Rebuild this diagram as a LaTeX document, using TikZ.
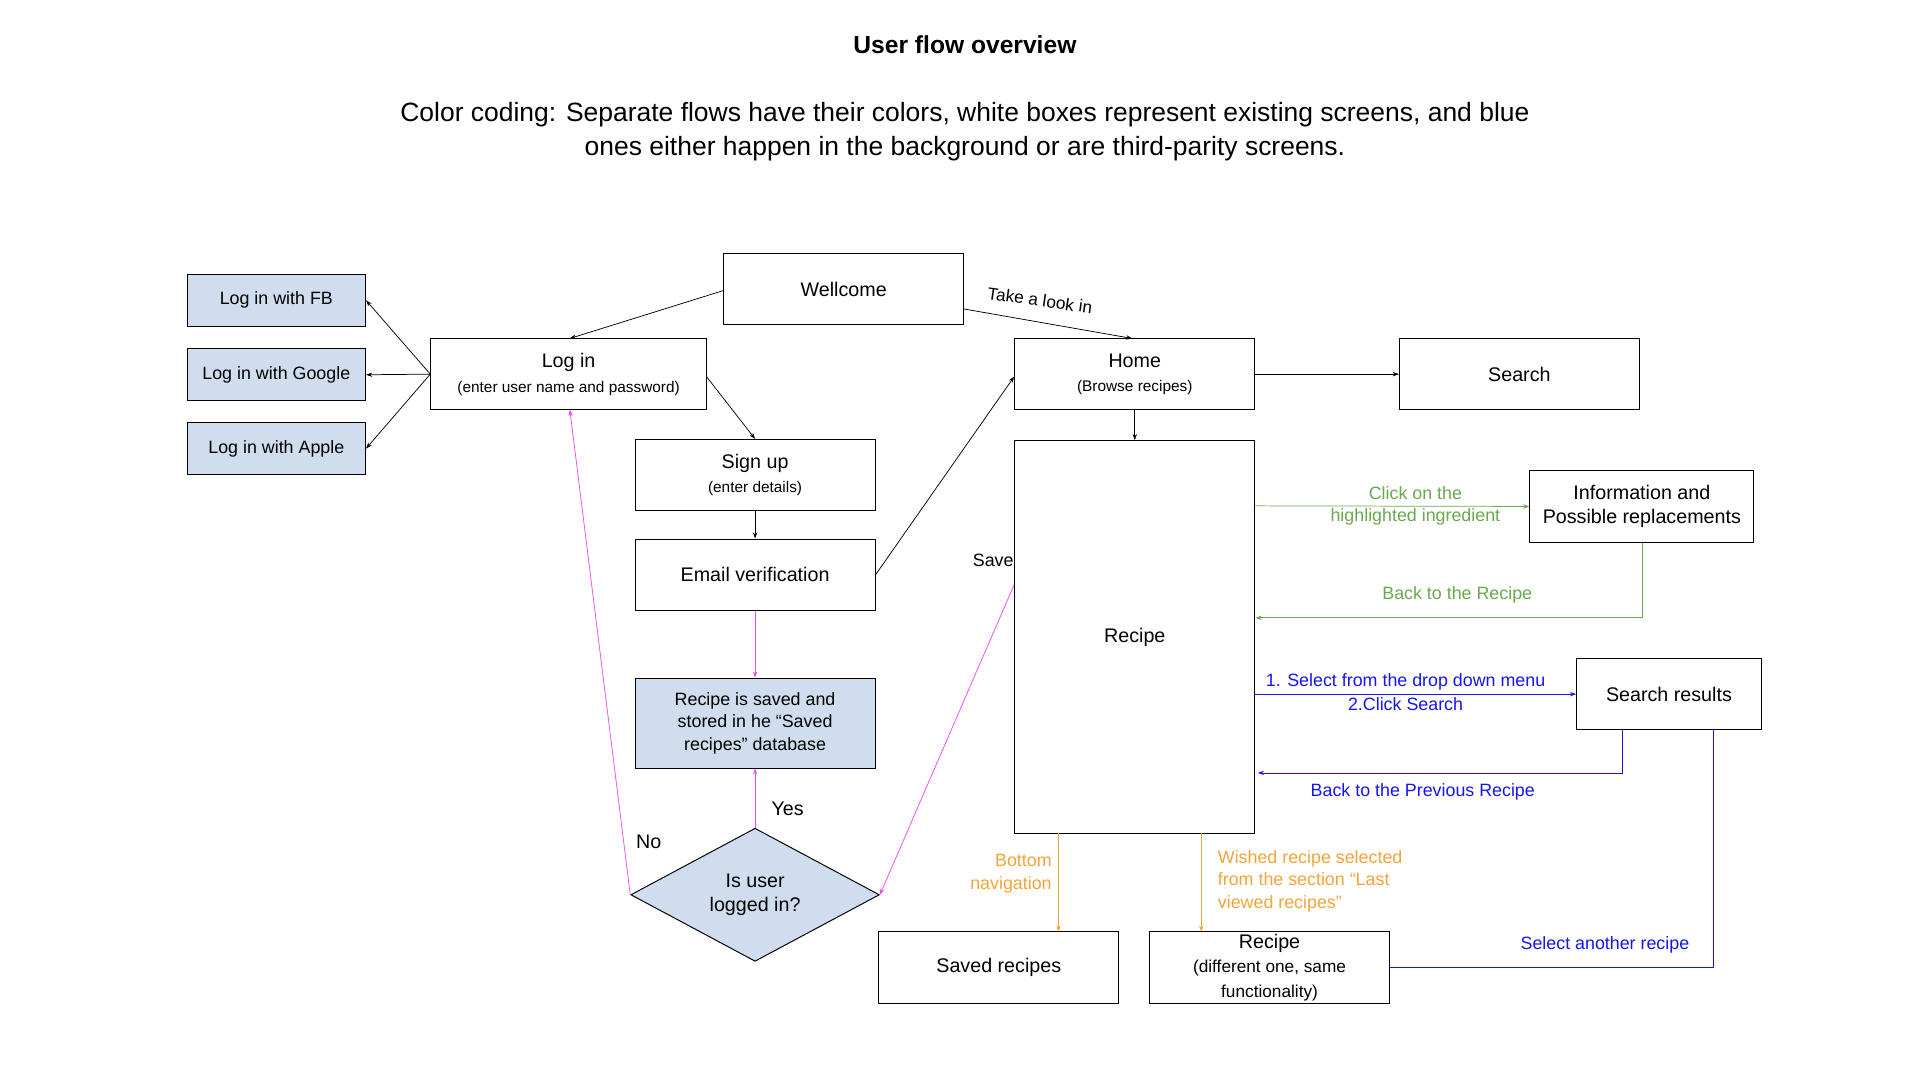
\documentclass[tikz,border=0pt]{standalone}
\usepackage{fontspec}
\setmainfont{Liberation Sans}
\usetikzlibrary{arrows.meta,shapes.geometric}
\definecolor{bfill}{HTML}{CFDDEE}
\definecolor{gr}{HTML}{6AA84F}
\definecolor{bl}{HTML}{1515F0}
\definecolor{org}{HTML}{F2A33A}
\definecolor{mg}{HTML}{E64CF0}
\newcommand{\fs}[1]{\fontsize{#1}{\dimexpr #1pt*5/4\relax}\selectfont}
\begin{document}
\begin{tikzpicture}[x=1pt,y=-1pt,
 box/.style={draw,thick,minimum width=195pt,minimum height=58pt,align=center,inner sep=1pt,font=\fs{16}},
 sbox/.style={draw,thick,fill=bfill,minimum width=145pt,minimum height=42pt,align=center,font=\fs{14.5}},
 arr/.style={-{Stealth[length=5pt,width=3.5pt]},line width=0.6pt},
 lab/.style={font=\fs{14.5}}]
\path[use as bounding box] (0,0) rectangle (1560,877);
\node[font=\bfseries\fs{20}] (t) at (784,36) {User flow overview};
\node[align=center,font=\fs{21.5}] (s) at (784,107) {Color coding: Separate flows have their colors, white boxes represent existing screens, and blue\\ones either happen in the background or are third-parity screens.};
\node[box] (wel) at (685.5,235) {Wellcome};
\node[box,minimum width=224pt] (login) at (462,304) {Log in\\{\fs{12.5}(enter user name and password)}};
\node[sbox] (fb) at (224.5,244) {Log in with FB};
\node[sbox] (go) at (224.5,304.5) {Log in with Google};
\node[sbox] (ap) at (224.5,364.5) {Log in with Apple};
\node[box] (home) at (922,304) {Home\\{\fs{12.5}(Browse recipes)}};
\node[box] (search) at (1234.5,304) {Search};
\node[box] (sign) at (613.5,386) {Sign up\\{\fs{12.5}(enter details)}};
\node[box] (email) at (613.5,467) {Email verification};
\node[box,minimum height=319pt] (rec) at (922,517.5) {Recipe};
\node[box,minimum width=182pt,minimum height=59pt] (info) at (1334,411.5) {Information and\\Possible replacements};
\node[box,fill=bfill,minimum height=73pt,font=\fs{14.5}] (stored) at (613.5,587.5) {Recipe is saved and\\stored in he “Saved\\recipes” database};
\node[box,minimum width=150pt] (sres) at (1356,564) {Search results};
\node[diamond,draw,thick,fill=bfill,minimum width=202pt,minimum height=98pt,align=center,inner sep=0pt,font=\fs{16}] (dia) at (613.5,727) {Is user\\logged in?};
\node[box] (saved) at (811.5,786) {Saved recipes};
\node[box] (rec2) at (1031.5,786) {Recipe\\{\fs{14}(different one, same}\\{\fs{14}functionality)}};
% black
\draw[arr] (588,236) -- (463,275);
\draw[arr] (783,251) -- (920,275);
\node[rotate=-8,font=\fs{14}] (tl) at (845,244) {Take a look in};
\draw[arr] (login.west) -- (fb.east);
\draw[arr] (login.west) -- (go.east);
\draw[arr] (login.west) -- (ap.east);
\draw[arr] (574,306) -- (sign.north);
\draw[arr] (sign.south) -- (email.north);
\draw[arr] (email.east) -- (824,306);
\draw[arr] (home.east) -- (search.west);
\draw[arr] (home.south) -- (rec.north);
% green
\draw[arr,gr] (1020,411) -- (info.west);
\node[lab,gr,align=center] (g1) at (1150,411) {Click on the\\highlighted ingredient};
\draw[arr,gr] (info.south) -- (1334,502) -- (1020,502);
\node[lab,gr] (g2) at (1184,483) {Back to the Recipe};
% blue
\draw[arr,bl] (1020,564) -- (sres.west);
\node[lab,bl] (b1) at (1142,554) {1. Select from the drop down menu};
\node[lab,bl] (b2) at (1142,572) {2.Click Search};
\draw[arr,bl] (1318,593) -- (1318,628) -- (1022,628);
\node[lab,bl] (b3) at (1156,643) {Back to the Previous Recipe};
\draw[bl,line width=0.8pt] (1392,593) -- (1392,786) -- (rec2.east);
\node[lab,bl] (b4) at (1304,768) {Select another recipe};
% orange
\draw[arr,org] (860,677) -- (860,757);
\node[lab,org,align=right,anchor=east] (o1) at (858,710) {Bottom\\navigation};
\draw[arr,org] (976,677) -- (976,757);
\node[lab,org,align=left,anchor=west] (o2) at (986,716) {Wished recipe selected\\from the section “Last\\viewed recipes”};
% magenta
\draw[arr,mg] (email.south) -- (stored.north);
\draw[arr,mg] (dia.north) -- (stored.south);
\node[font=\fs{16}] (yes) at (640,657) {Yes};
\draw[arr,mg] (dia.west) -- (463,333);
\node[font=\fs{16}] (no) at (527,684) {No};
\draw[arr,mg] (824,475) -- (dia.east);
\node[lab] (save) at (807,455) {Save};
\end{tikzpicture}
\end{document}
